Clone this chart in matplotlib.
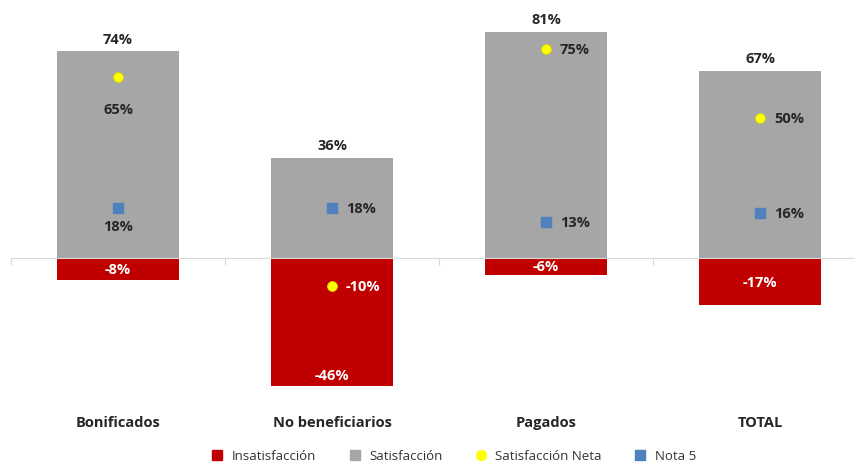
import numpy as np
import matplotlib.pyplot as plt
from matplotlib.lines import Line2D
from matplotlib.transforms import blended_transform_factory

categories = ['Bonificados', 'No beneficiarios', 'Pagados', 'TOTAL']
insatisfaccion = [-8, -46, -6, -17]
satisfaccion = [74, 36, 81, 67]
satisfaccion_neta = [65, -10, 75, 50]
nota5 = [18, 18, 13, 16]

RED = '#C00000'
GREY = '#A6A6A6'
YELLOW = '#FFFF00'
BLUE = '#4F81BD'

plt.rcParams['font.family'] = ['Open Sans', 'DejaVu Sans']

fig = plt.figure(figsize=(8.55, 4.64), dpi=100)
# axes in pixel coords: x 11..867, y 10..400 (from top)
W, H = 855, 464
ax = fig.add_axes([11 / W, (H - 400) / H, 856 / W, 390 / H])

x = np.arange(len(categories))
width = 0.57

ax.bar(x, satisfaccion, width=width, color=GREY, zorder=2)
ax.bar(x, insatisfaccion, width=width, color=RED, zorder=2)
ax.scatter(x, satisfaccion_neta, s=50, marker='o', color=YELLOW,
           edgecolors='#D8D800', linewidths=0.6, zorder=4)
ax.scatter(x, nota5, s=50, marker='s', color=BLUE, zorder=4)

ax.set_xlim(-0.5, len(categories) - 0.5)
ax.set_ylim(-50.5, 89.2)

# axis at zero, ticks between categories
for s in ['top', 'right', 'left']:
    ax.spines[s].set_visible(False)
ax.spines['bottom'].set_position(('data', 0))
ax.spines['bottom'].set_color('#D9D9D9')
ax.spines['bottom'].set_zorder(3)
ax.set_yticks([])
ax.set_xticks(np.arange(len(categories) + 1) - 0.5)
ax.set_xticklabels([])
ax.tick_params(axis='x', length=5, color='#D9D9D9', direction='out')

trans = blended_transform_factory(ax.transData, fig.transFigure)
for i, c in enumerate(categories):
    ax.text(i, 1 - 423 / H, c, transform=trans, ha='center', va='center',
            fontsize=10.5, fontweight='bold', color='#262626')

# data labels
for i, (s, ins) in enumerate(zip(satisfaccion, insatisfaccion)):
    ax.annotate(f'{s}%', (i, s), xytext=(0, 4), textcoords='offset points',
                ha='center', va='bottom', fontsize=10.5, fontweight='bold', color='#262626')
    ypos = ins + 4 if abs(ins) > 30 else ins / 2
    ax.text(i, ypos, f'{ins}%', ha='center', va='center', fontsize=10.5,
            fontweight='bold', color='white', zorder=5)

below = [True, False, False, False]
for i, (n, q) in enumerate(zip(satisfaccion_neta, nota5)):
    col_n = 'white' if n < 0 else '#262626'
    if below[i]:
        ax.annotate(f'{n}%', (i, n), xytext=(0, -23), textcoords='offset points',
                    ha='center', va='center', fontsize=10.5, fontweight='bold', color=col_n)
        ax.annotate(f'{q}%', (i, q), xytext=(0, -13), textcoords='offset points',
                    ha='center', va='center', fontsize=10.5, fontweight='bold', color='#262626')
    else:
        ax.annotate(f'{n}%', (i, n), xytext=(10, 0), textcoords='offset points',
                    ha='left', va='center', fontsize=10.5, fontweight='bold', color=col_n)
        ax.annotate(f'{q}%', (i, q), xytext=(10, 0), textcoords='offset points',
                    ha='left', va='center', fontsize=10.5, fontweight='bold', color='#262626')

handles = [
    Line2D([], [], marker='s', ls='', color=RED, markersize=7),
    Line2D([], [], marker='s', ls='', color=GREY, markersize=7),
    Line2D([], [], marker='o', ls='', color=YELLOW, markersize=7),
    Line2D([], [], marker='s', ls='', color=BLUE, markersize=7),
]
fig.legend(handles, ['Insatisfacción', 'Satisfacción', 'Satisfacción Neta', 'Nota 5'],
           loc='center', bbox_to_anchor=(450 / W, 1 - 457 / H), ncol=4, frameon=False,
           fontsize=9.5, handletextpad=0.1, columnspacing=1.9, labelcolor='#333333')

fig.savefig('out.png', dpi=100)
